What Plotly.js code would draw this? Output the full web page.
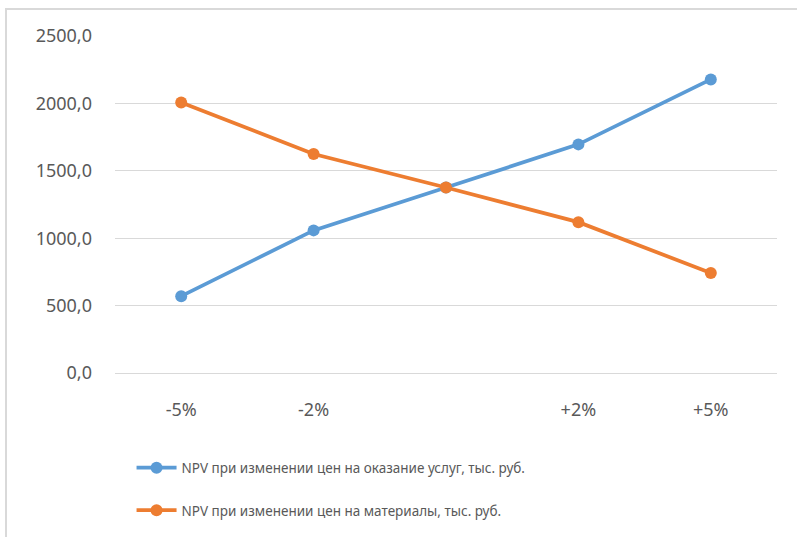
<!DOCTYPE html>
<html>
<head>
<meta charset="utf-8">
<script src="https://cdn.plot.ly/plotly-3.0.1.min.js"></script>
<style>
  html, body { margin: 0; padding: 0; background: #fff; }
  #wrap { position: relative; width: 797px; height: 537px; overflow: hidden; }
  #frame { position: absolute; left: 5px; top: 8px; width: 800px; height: 540px;
           border: 2px solid #d9d9d9; box-sizing: border-box; pointer-events: none; }
  #chart { position: absolute; left: 0; top: 0; width: 797px; height: 537px; }
</style>
</head>
<body>
<div id="wrap">
  <div id="chart"></div>
  <div id="frame"></div>
</div>
<script>
// Change in price, scenarios
const categories = ['-5%', '-2%', '0%', '+2%', '+5%'];
const tickLabels = ['-5%', '-2%', '', '+2%', '+5%'];

// NPV, thousand roubles
const npvServices = [570, 1058, 1376, 1696, 2178];
const npvMaterials = [2007, 1625, 1376, 1119, 742];

const seriesNames = [
  'NPV при изменении цен на оказание услуг, тыс. руб.',
  'NPV при изменении цен на материалы, тыс. руб.'
];

const font = "'Noto Sans', sans-serif";
const textColor = '#595959';

const traces = [
  {
    x: categories, y: npvServices, name: seriesNames[0],
    type: 'scatter', mode: 'lines+markers', legendgroup: 'a',
    line: { color: '#5B9BD5', width: 3.75 },
    marker: { color: '#5B9BD5', size: 12 }
  },
  {
    x: categories, y: npvMaterials, name: seriesNames[1],
    type: 'scatter', mode: 'lines+markers', legendgroup: 'b',
    line: { color: '#ED7D31', width: 3.75 },
    marker: { color: '#ED7D31', size: 12 }
  }
];

const layout = {
  width: 797, height: 537,
  margin: { l: 115, r: 20, t: 36, b: 163 },
  paper_bgcolor: '#ffffff', plot_bgcolor: '#ffffff',
  separators: ', ',
  font: { family: font, size: 18, color: textColor },
  showlegend: true,
  legend: {
    orientation: 'v', x: 0.025, xanchor: 'left', y: -0.232, yanchor: 'top',
    font: { family: font, size: 13.5, color: textColor },
    tracegroupgap: 22, traceorder: 'grouped', itemwidth: 40
  },
  xaxis: {
    type: 'category', tickmode: 'array', tickvals: categories, ticktext: tickLabels,
    range: [-0.5, 4.5], showgrid: false, zeroline: false, showline: false,
    ticks: '', ticklabelstandoff: 24, tickfont: { size: 18, color: textColor }
  },
  yaxis: {
    range: [0, 2500], dtick: 500, tickformat: '.1f',
    showgrid: true, gridcolor: '#d9d9d9', gridwidth: 1,
    zeroline: true, zerolinecolor: '#d9d9d9', zerolinewidth: 1,
    showline: false, ticks: '', ticklabelstandoff: 22,
    tickfont: { size: 18, color: textColor }
  }
};

Plotly.newPlot('chart', traces, layout, { displayModeBar: false, staticPlot: true });
</script>
</body>
</html>
